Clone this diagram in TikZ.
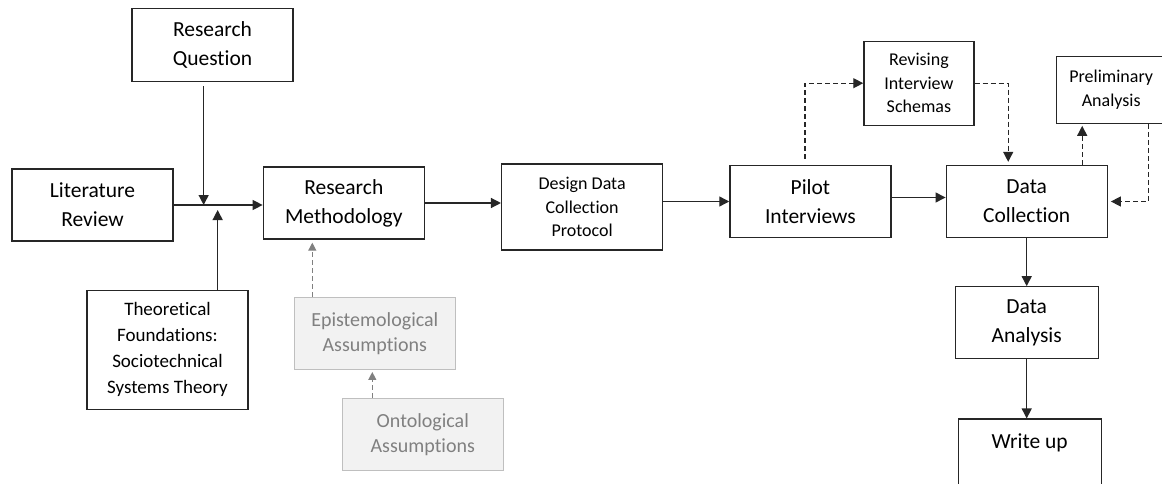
\documentclass[tikz,border=0pt]{standalone}
\usepackage{fontspec}
\setmainfont{Carlito}[Ligatures=NoCommon]
\usetikzlibrary{positioning, arrows.meta, calc}
\definecolor{boxline}{HTML}{262626}
\definecolor{softfill}{HTML}{F2F2F2}
\definecolor{softline}{HTML}{BFBFBF}
\definecolor{softtext}{HTML}{808080}
\tikzset{
  block/.style={draw=boxline, line width=1.3pt, minimum width=161pt, minimum height=72pt, align=center, inner sep=2pt, font=\fontsize{21.5}{29}\selectfont},
  smallblock/.style={block, font=\fontsize{18}{23.5}\selectfont},
  assume/.style={block, draw=softline, fill=softfill, text=softtext, font=\fontsize{20}{25}\selectfont},
  arr/.style={-{Triangle[length=10pt,width=10pt]}, line width=1.3pt, color=boxline},
  darr/.style={arr, dash pattern=on 5pt off 3pt},
  garr/.style={darr, color=softtext, line width=1.2pt, -{Triangle[length=8pt,width=8pt]}}
}
\begin{document}
\begin{tikzpicture}[x=1pt, y=-1pt]
\useasboundingbox (0,0) rectangle (1162,484);
\clip (0,0) rectangle (1162,484);
% main row
\node[block] (lr) at (92.5,205) {Literature\\Review};
\node[block, right=89pt of lr, yshift=2pt] (rm) {Research\\Methodology};
\node[smallblock, minimum height=86pt, right=76pt of rm, yshift=-4pt] (ddcp) {Design Data\\Collection\\Protocol};
\node[block, right=66pt of ddcp, yshift=5.5pt] (pilot) {Pilot\\Interviews};
\node[block, right=54pt of pilot] (dc) {Data\\Collection};
\node[block, minimum width=143pt, below=48pt of dc] (da) {Data\\Analysis};
\node[block, minimum width=143pt, minimum height=73pt, below=59pt of da, xshift=3pt] (wu) {Write up\\\mbox{}};
% inputs
\node[block, minimum height=73pt, above=86pt of lr, xshift=120pt] (rq) {Research\\Question};
\node[block, minimum height=119pt, below=48pt of lr, xshift=75pt, font=\fontsize{19}{26}\selectfont] (tf) {Theoretical\\Foundations:\\Sociotechnical\\Systems Theory};
\node[assume, below=57pt of rm, xshift=31pt] (epi) {Epistemological\\Assumptions};
\node[assume, below=28pt of epi, xshift=48pt] (onto) {Ontological\\Assumptions};
% loops
\node[smallblock, minimum width=110pt, minimum height=84pt, above=39pt of pilot, xshift=108.5pt] (ris) {Revising\\Interview\\Schemas};
\node[smallblock, minimum width=110pt, minimum height=67pt, above=41pt of dc, xshift=84.5pt] (pa) {Preliminary\\Analysis};
\coordinate (rqin) at ($(lr.east)+(30pt,0)$);
\coordinate (tfin) at ($(lr.east)+(44pt,-5pt)$);
\draw[arr, shorten <=4pt] (rq.south -| rqin) -- (rqin);
\draw[arr] (lr.east) -- (lr.east -| rm.west);
\draw[arr] (tf.north -| tfin) -- (tfin);
\draw[garr, shorten >=3pt] ([xshift=-62.5pt]epi.north) -- ([xshift=-62.5pt]epi.north |- rm.south);
\draw[garr, shorten >=2pt] ([xshift=-50.5pt]onto.north) -- ([xshift=-50.5pt]onto.north |- epi.south);
\draw[arr] (rm.east) -- (rm.east -| ddcp.west);
\draw[arr] (pilot.west -| ddcp.east) -- (pilot.west);
\draw[arr] ([yshift=4pt]pilot.east) -- ([yshift=4pt]pilot.east -| dc.west);
\draw[arr] (dc.south) -- (da.north);
\draw[arr] (da.south) -- (da.south |- wu.north);
\draw[darr, shorten <=6pt] ([xshift=-5.5pt]pilot.north) |- (ris.west);
\draw[darr, shorten >=3pt] (ris.east) -| ([xshift=-18.5pt]dc.north);
\draw[darr, shorten >=2pt] ([xshift=55.5pt]dc.north) -- ([xshift=55.5pt]dc.north |- pa.south);
\draw[darr, shorten >=3pt] ([xshift=37pt]pa.south) |- (dc.east);
\end{tikzpicture}
\end{document}
